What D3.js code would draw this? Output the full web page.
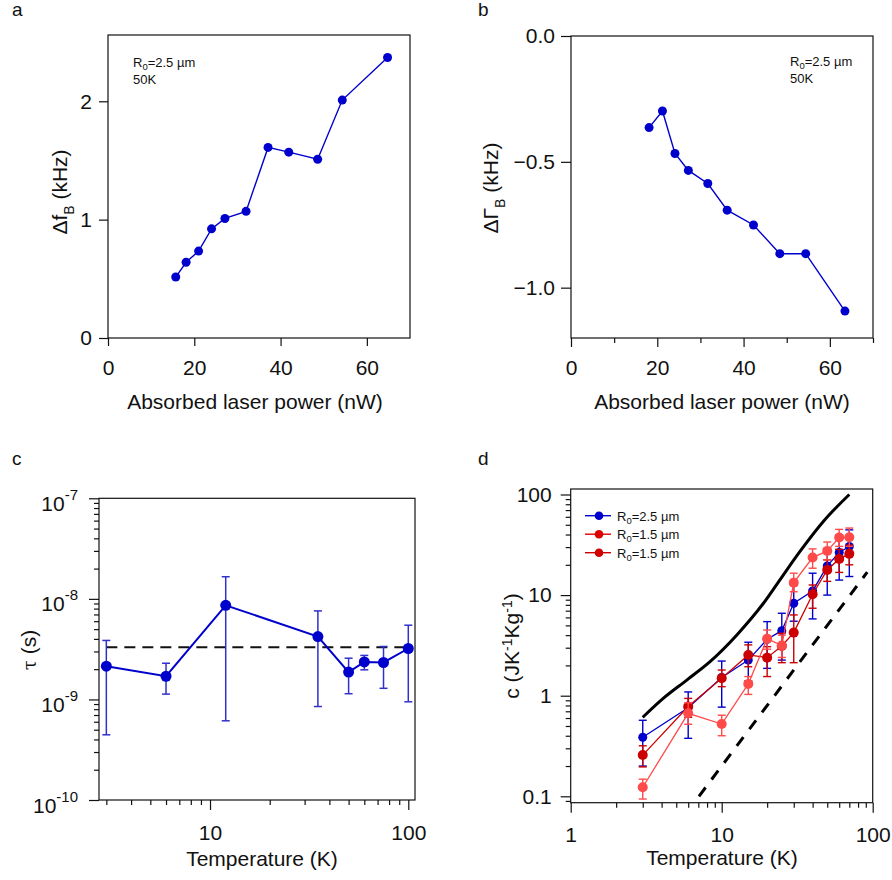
<!DOCTYPE html>
<html>
<head>
<meta charset="utf-8">
<script src="https://cdn.jsdelivr.net/npm/d3@7"></script>
<style>
  body { margin: 0; background: #fff; }
  svg { font-family: "Liberation Sans", Arial, sans-serif; }
</style>
</head>
<body>
<div id="graphic"></div>
<script>
// ---- data ----
// a: frequency shift vs absorbed power
var powerA = [15.7, 18.1, 21.0, 24.0, 27.1, 32.0, 37.1, 41.9, 48.6, 54.3, 64.8];
var dfB    = [0.515, 0.64, 0.734, 0.922, 1.01, 1.07, 1.61, 1.57, 1.51, 2.01, 2.37];

// b: linewidth shift vs absorbed power
var powerB  = [18.1, 21.2, 24.1, 27.2, 31.7, 36.2, 42.3, 48.4, 54.4, 63.5];
var dGammaB = [-0.364, -0.298, -0.467, -0.534, -0.586, -0.692, -0.751, -0.865, -0.865, -1.093];

// c: tau vs temperature
var tempC = [3, 6, 12, 35, 50, 60, 75, 100];
var tau   = [2.14e-9, 1.70e-9, 8.63e-9, 4.22e-9, 1.87e-9, 2.36e-9, 2.33e-9, 3.21e-9];
var tauHi = [3.86e-9, 2.29e-9, 1.66e-8, 7.59e-9, 2.57e-9, 2.74e-9, 3.36e-9, 5.47e-9];
var tauLo = [4.45e-10, 1.13e-9, 6.13e-10, 8.5e-10, 1.14e-9, 1.97e-9, 1.29e-9, 9.47e-10];
var tauRefT = [3, 100];
var tauRef  = [3.3e-9, 3.3e-9];

// d: specific heat vs temperature
var tempD = [3, 6, 10, 15, 20, 25, 30, 40, 50, 60, 70];
var cBlue   = [0.386, 0.76, 1.52, 2.26, 3.64, 4.43, 8.3, 11.0, 19.5, 26.5, 30.4];
var cBlueHi = [0.57, 1.09, 2.21, 3.4, 5.45, 6.6, 12.5, 16.5, 27, 39.6, 44.5];
var cBlueLo = [0.2, 0.377, 0.77, 1.4, 1.87, 2.26, 5.5, 5.8, 10.0, 14.1, 15.3];
var cLight   = [0.123, 0.668, 0.523, 1.31, 3.69, 3.15, 13.3, 23.6, 27.5, 37.3, 37.6];
var cLightHi = [0.148, 0.85, 0.64, 1.55, 4.5, 4.0, 16.5, 28.8, 33.7, 45, 46.4];
var cLightLo = [0.094, 0.52, 0.4, 1.03, 2.9, 2.4, 10.8, 18.5, 22.4, 30.5, 30.5];
var cDark   = [0.257, 0.78, 1.49, 2.54, 2.39, 3.12, 4.24, 10.2, 17.8, 22.9, 25.7];
var cDarkHi = [0.318, 0.94, 1.8, 3.2, 3.07, 4.17, 6.35, 12.6, 22.4, 28.5, 31.4];
var cDarkLo = [0.196, 0.61, 1.23, 1.94, 1.55, 2.13, 2.13, 7.4, 13.7, 16.8, 20.0];
var tempSolid = [3.0, 4.1, 5.87, 8.37, 12.6, 18.9, 24.3, 33, 47.1, 70];
var cSolid    = [0.61, 0.94, 1.43, 2.18, 4.02, 8.3, 14.2, 27.2, 54, 100];
var tempDash = [7.07, 92];
var cDash    = [0.1, 16.9];
var legendD = ["2.5", "1.5", "1.5"];

var BLUE = "#0000cc", LIGHT = "#ff4a4a", DARK = "#cc0000";
var FS = 21;

var svg = d3.select("#graphic").append("svg")
        .attr("width", 892)
        .attr("height", 880);

function zip(xs, ys) { return xs.map(function(v, i) { return [v, ys[i]]; }); }

function frame(x, y) {
    var r = x.range(), s = y.range();
    svg.append("rect")
        .attr("x", r[0]).attr("y", s[1])
        .attr("width", r[1] - r[0]).attr("height", s[0] - s[1])
        .style("fill", "none").style("stroke", "#111").style("stroke-width", 1.2);
}

function styleAxis(g) {
    g.select(".domain").remove();
    g.selectAll("line").style("stroke", "#111").style("stroke-width", 1.2);
    g.selectAll("text").style("font-size", FS + "px").style("fill", "#111")
        .style("font-family", "'Liberation Sans', Arial, sans-serif");
}

function axisB(x, y0, vals, size, pad, fmt) {
    var g = svg.append("g").attr("transform", "translate(0," + y0 + ")")
        .call(d3.axisBottom(x).tickValues(vals).tickSize(size).tickPadding(pad).tickFormat(fmt));
    styleAxis(g);
    return g;
}

function axisL(y, x0, vals, size, pad, fmt) {
    var g = svg.append("g").attr("transform", "translate(" + x0 + ",0)")
        .call(d3.axisLeft(y).tickValues(vals).tickSize(size).tickPadding(pad).tickFormat(fmt));
    styleAxis(g);
    return g;
}

function logMinors(lo, hi) {
    var out = [];
    for (var e = Math.floor(Math.log10(lo)); e <= Math.ceil(Math.log10(hi)); e++) {
        for (var k = 2; k <= 9; k++) {
            var v = k * Math.pow(10, e);
            if (v >= lo && v <= hi) out.push(v);
        }
    }
    return out;
}

function panelLabel(t, x, y) {
    svg.append("text").attr("x", x).attr("y", y).text(t)
        .style("font-size", "19px").style("fill", "#111");
}

function xLabel(t, x, y) {
    svg.append("text").attr("x", x).attr("y", y).attr("text-anchor", "middle")
        .text(t).style("font-size", FS + "px").style("fill", "#111");
}

// rotated y label made of parts [text, shift] (shift: 0 normal, 1 sub, -1 sup)
function yLabel(parts, x, y) {
    var t = svg.append("text")
        .attr("transform", "translate(" + x + "," + y + ") rotate(-90)")
        .attr("text-anchor", "middle")
        .style("font-size", FS + "px").style("fill", "#111");
    var prev = 0;
    parts.forEach(function(p) {
        var off = p[1] * 7;
        t.append("tspan").attr("dy", off - prev)
            .style("font-size", p[1] === 0 ? FS + "px" : "14px")
            .text(p[0]);
        prev = off;
    });
}

function inset(x, y) {
    var t = svg.append("text").attr("x", x).attr("y", y)
        .style("font-size", "13px").style("fill", "#111");
    t.append("tspan").text("R");
    t.append("tspan").attr("dy", 3).style("font-size", "9.5px").text("0");
    t.append("tspan").attr("dy", -3).text("=2.5 \u00b5m");
    svg.append("text").attr("x", x).attr("y", y + 17).text("50K")
        .style("font-size", "13px").style("fill", "#111");
}

function lineDots(x, y, pts, color, r, w) {
    svg.append("path").datum(pts)
        .attr("d", d3.line().x(function(d) { return x(d[0]); }).y(function(d) { return y(d[1]); }))
        .style("fill", "none").style("stroke", color).style("stroke-width", w);
    svg.append("g").selectAll("circle").data(pts).enter().append("circle")
        .attr("cx", function(d) { return x(d[0]); })
        .attr("cy", function(d) { return y(d[1]); })
        .attr("r", r).style("fill", color);
}

function errBars(x, y, xs, lo, hi, color, cap, w) {
    var g = svg.append("g").style("stroke", color).style("stroke-width", w);
    xs.forEach(function(t, i) {
        var cx = x(t), y1 = y(hi[i]), y2 = y(lo[i]);
        g.append("line").attr("x1", cx).attr("x2", cx).attr("y1", y1).attr("y2", y2);
        g.append("line").attr("x1", cx - cap).attr("x2", cx + cap).attr("y1", y1).attr("y2", y1);
        g.append("line").attr("x1", cx - cap).attr("x2", cx + cap).attr("y1", y2).attr("y2", y2);
    });
}

// ---------------- a ----------------
var xa = d3.scaleLinear().domain([0, 70]).range([108, 410]);
var ya = d3.scaleLinear().domain([0, 2.56]).range([338, 35]);
frame(xa, ya);
axisB(xa, 338, [0, 20, 40, 60], 8, 14, d3.format("d"));
axisL(ya, 108, [0, 1, 2], 9, 7, d3.format("d"));
lineDots(xa, ya, zip(powerA, dfB), BLUE, 4.5, 1.4);
inset(133, 67);
panelLabel("a", 12, 16);
xLabel("Absorbed laser power (nW)", 255, 409);
yLabel([["\u0394f", 0], ["B", 1], [" (kHz)", 0]], 67, 192);

// ---------------- b ----------------
var xb = d3.scaleLinear().domain([0, 70]).range([571, 873]);
var yb = d3.scaleLinear().domain([-1.2, 0]).range([338, 36]);
frame(xb, yb);
axisB(xb, 338, [0, 20, 40, 60], 9, 13, d3.format("d"));
axisB(xb, 338, [10, 30, 50, 70], 5, 0, function() { return ""; });
axisL(yb, 571, [0, -0.5, -1.0], 10, 6, d3.format(".1f"));
lineDots(xb, yb, zip(powerB, dGammaB), BLUE, 4.5, 1.4);
inset(790, 66);
panelLabel("b", 478, 16);
xLabel("Absorbed laser power (nW)", 722, 409);
yLabel([["\u0394\u0393", 0], ["B", 1], [" (kHz)", 0]], 498, 188);

// ---------------- c ----------------
var xc = d3.scaleLog().domain([2.755, 108.1]).range([99, 415]);
var yc = d3.scaleLog().domain([1e-10, 1e-7]).range([800, 498.3]);
frame(xc, yc);
axisB(xc, 800, [10, 100], 10, 15, d3.format("d"));
axisB(xc, 800, logMinors(3, 90).filter(function(v) { return v !== 10; }), 5, 0, function() { return ""; });
var gyc = axisL(yc, 99, [1e-10, 1e-9, 1e-8, 1e-7], 10, 0, function() { return ""; });
gyc.selectAll(".tick text").each(function(d) {
    var t = d3.select(this).attr("x", -21).attr("dy", 12).attr("text-anchor", "end");
    t.append("tspan").text("10");
    t.append("tspan").attr("dy", -11).style("font-size", "15px")
        .text("-" + Math.round(-Math.log10(d)));
});
axisL(yc, 99, logMinors(2e-10, 9e-8), 5, 0, function() { return ""; });
svg.append("path").datum(zip(tauRefT, tauRef))
    .attr("d", d3.line().x(function(d) { return xc(d[0]); }).y(function(d) { return yc(d[1]); }))
    .style("fill", "none").style("stroke", "#111").style("stroke-width", 2)
    .style("stroke-dasharray", "11,7");
errBars(xc, yc, tempC, tauLo, tauHi, "#3030cc", 4, 1.5);
lineDots(xc, yc, zip(tempC, tau), BLUE, 5.5, 2);
panelLabel("c", 12, 465);
xLabel("Temperature (K)", 262, 866);
var tl = svg.append("text").attr("transform", "translate(36,650) rotate(-90)")
    .attr("text-anchor", "middle").style("font-size", FS + "px").style("fill", "#111");
tl.append("tspan").style("font-family", "'DejaVu Serif', serif").style("font-size", "18px").text("\u03c4");
tl.append("tspan").text(" (s)");

// ---------------- d ----------------
var xd = d3.scaleLog().domain([1, 100]).range([570.7, 872.7]);
var yd = d3.scaleLog().domain([0.0864, 113.4]).range([802.7, 489]);
frame(xd, yd);
axisB(xd, 802.7, [1, 10, 100], 10, 14, d3.format("d"));
axisB(xd, 802.7, logMinors(2, 90).filter(function(v) { return v !== 10; }), 5, 0, function() { return ""; });
axisL(yd, 570.7, [0.1, 1, 10, 100], 10, 9, function(d) { return d < 1 ? "0.1" : d3.format("d")(d); });
axisL(yd, 570.7, logMinors(0.09, 90).filter(function(v) { return v !== 1 && v !== 10; }), 5, 0, function() { return ""; });

svg.append("path").datum(zip(tempSolid, cSolid))
    .attr("d", d3.line().curve(d3.curveMonotoneX)
        .x(function(d) { return xd(d[0]); }).y(function(d) { return yd(d[1]); }))
    .style("fill", "none").style("stroke", "#000").style("stroke-width", 3);
svg.append("path").datum(zip(tempDash, cDash))
    .attr("d", d3.line().x(function(d) { return xd(d[0]); }).y(function(d) { return yd(d[1]); }))
    .style("fill", "none").style("stroke", "#000").style("stroke-width", 3)
    .style("stroke-dasharray", "11,10");

errBars(xd, yd, tempD, cBlueLo, cBlueHi, BLUE, 4, 1.4);
lineDots(xd, yd, zip(tempD, cBlue), BLUE, 4.5, 1.3);
errBars(xd, yd, tempD, cDarkLo, cDarkHi, DARK, 4, 1.4);
lineDots(xd, yd, zip(tempD, cDark), DARK, 5, 1.3);
errBars(xd, yd, tempD, cLightLo, cLightHi, LIGHT, 4, 1.4);
lineDots(xd, yd, zip(tempD, cLight), LIGHT, 5, 1.3);

// legend
var legColors = [BLUE, "#dd0000", "#d00000"];
legendD.forEach(function(r, i) {
    var yy = 515.7 + i * 18.5;
    svg.append("line").attr("x1", 585).attr("x2", 611).attr("y1", yy).attr("y2", yy)
        .style("stroke", legColors[i]).style("stroke-width", 1.4);
    svg.append("circle").attr("cx", 599).attr("cy", yy).attr("r", 4.3).style("fill", legColors[i]);
    var t = svg.append("text").attr("x", 617).attr("y", yy + 5)
        .style("font-size", "13px").style("fill", "#111");
    t.append("tspan").text("R");
    t.append("tspan").attr("dy", 3).style("font-size", "9.5px").text("0");
    t.append("tspan").attr("dy", -3).text("=" + r + " \u00b5m");
});

panelLabel("d", 478, 465);
xLabel("Temperature (K)", 722, 865);
yLabel([["c (JK", 0], ["-1", -1], ["Kg", 0], ["-1", -1], [")", 0]], 519, 646);
</script>
</body>
</html>
